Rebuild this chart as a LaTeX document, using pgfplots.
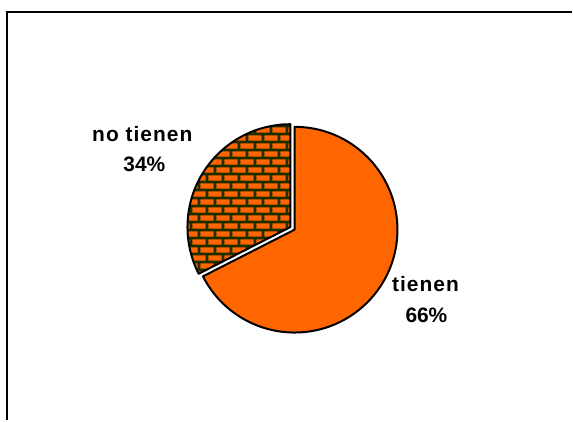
\documentclass[border=0pt]{standalone}
\usepackage{pgfplots}
\pgfplotsset{compat=1.18}
\usepackage{pgfplotstable}
\usepackage{fontspec}
\setmainfont{Liberation Sans}
\usetikzlibrary{patterns}
\definecolor{pieorange}{RGB}{255,102,0}
\definecolor{mortar}{RGB}{30,46,0}
\pgfdeclarepatternformonly{thickbricks}{\pgfqpoint{0pt}{0pt}}{\pgfqpoint{16pt}{16pt}}{\pgfqpoint{16pt}{16pt}}{%
  \pgfsetlinewidth{2.6pt}%
  \pgfpathmoveto{\pgfqpoint{0pt}{0pt}}\pgfpathlineto{\pgfqpoint{16pt}{0pt}}%
  \pgfpathmoveto{\pgfqpoint{0pt}{8pt}}\pgfpathlineto{\pgfqpoint{16pt}{8pt}}%
  \pgfpathmoveto{\pgfqpoint{0pt}{16pt}}\pgfpathlineto{\pgfqpoint{16pt}{16pt}}%
  \pgfpathmoveto{\pgfqpoint{0pt}{0pt}}\pgfpathlineto{\pgfqpoint{0pt}{8pt}}%
  \pgfpathmoveto{\pgfqpoint{16pt}{0pt}}\pgfpathlineto{\pgfqpoint{16pt}{8pt}}%
  \pgfpathmoveto{\pgfqpoint{8pt}{8pt}}\pgfpathlineto{\pgfqpoint{8pt}{16pt}}%
  \pgfusepath{stroke}%
}
\pgfplotstableread{
label value
tienen 67.5
notienen 32.5
}\piedata
\pgfplotstablegetelem{0}{value}\of\piedata \let\vA\pgfplotsretval
\pgfplotstablegetelem{1}{value}\of\piedata \let\vB\pgfplotsretval
\pgfmathsetmacro\aEnd{90-3.6*\vA}
\pgfmathsetmacro\bEnd{90+3.6*\vB}
\pgfmathsetmacro\bMid{90+1.8*\vB}
\begin{document}%
\begin{tikzpicture}
\begin{axis}[scale only axis, width=573bp, height=421bp,
  xmin=0, xmax=573, ymin=0, ymax=421, hide axis, clip=false]
\path (axis cs:0,0) rectangle (axis cs:573,421);
% frame
\draw[line width=1.6bp] (axis cs:7,0) -- (axis cs:7,409) -- (axis cs:573,409);
% tienen slice
\draw[line width=2bp, line join=round, fill=pieorange]
  (axis cs:295,191) -- ++(90:103bp) arc[start angle=90, end angle=\aEnd, radius=103bp] -- cycle;
% no tienen slice (exploded)
\draw[line width=2bp, line join=round, preaction={fill=pieorange}, pattern=thickbricks, pattern color=mortar]
  (axis cs:295,191) ++(\bMid:5bp) -- ++(90:103bp) arc[start angle=90, end angle=\bEnd, radius=103bp] -- cycle;
% labels
\node[anchor=base, font=\bfseries\fontsize{21}{25}\selectfont\addfontfeature{LetterSpace=5}] at (axis cs:142.5,279) {no tienen};
\node[anchor=base, font=\bfseries\fontsize{21}{25}\selectfont] at (axis cs:144.5,249) {34\%};
\node[anchor=base, font=\bfseries\fontsize{21}{25}\selectfont\addfontfeature{LetterSpace=5}] at (axis cs:426,129) {tienen};
\node[anchor=base, font=\bfseries\fontsize{21}{25}\selectfont] at (axis cs:427,98) {66\%};
\end{axis}
\end{tikzpicture}%
\end{document}
